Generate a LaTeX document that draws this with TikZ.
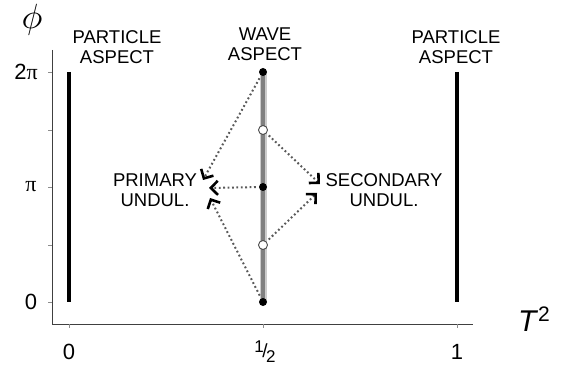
\documentclass[tikz,border=0pt]{standalone}
\usepackage{fontspec}
\setmainfont{Liberation Sans}
\newfontfamily\serifpi{Liberation Serif}
\usetikzlibrary{arrows.meta}
\begin{document}
\begin{tikzpicture}[x=1pt,y=1pt,
  lab/.style={font=\fontsize{18.5}{20.5}\selectfont, align=center, inner sep=0pt},
  tick/.style={font=\fontsize{22}{24}\selectfont, inner sep=0pt},
  pbar/.style={line width=4pt, black},
  wbar/.style={line width=4pt, black!50},
  fdot/.style={circle, fill=black, inner sep=0pt, minimum size=8pt},
  odot/.style={circle, fill=white, draw=black!70, line width=0.9pt, inner sep=0pt, minimum size=9pt},
  darr/.style={black!65, line width=2pt, dash pattern=on 1.8pt off 2.6pt, shorten <=3pt,
    -{Straight Barb[black, length=7pt, width=14pt, line width=2.6pt]}}]
\useasboundingbox (0,0) rectangle (577,-371);
\fill[white] (0,0) rectangle (577,-371);
% axes
\coordinate (yt) at (52,-50);
\coordinate (o) at (52,-324);
\coordinate (xe) at (473,-324);
\draw[black!75, line width=1pt] (yt) -- (o) -- (xe);
\foreach \y in {72,130,187,245,302} \draw[black!45, line width=0.6pt] (48,-\y) -- (52,-\y);
\foreach \x in {69,263,457} \draw[black!45, line width=0.6pt] (\x,-324) -- (\x,-328);
% tick labels
\node[tick] (y2pi) at (26,-72) {2{\serifpi π}};
\node[tick] (ypi) at (31,-187) {{\serifpi π}};
\node[tick] (y0) at (31,-302) {0};
\node[tick] (x0) at (69,-352) {0};
\node[tick] (xh) at (265,-352) {\raisebox{5pt}{\fontsize{17}{17}\selectfont 1}\kern-1.5pt{\fontsize{19}{19}\selectfont/}\kern-1.5pt\raisebox{-5pt}{\fontsize{17}{17}\selectfont 2}};
\node[tick] (x1) at (457,-352) {1};
\node[inner sep=0pt] (phi) at (32,-20) {\scalebox{3.5}{$\phi$}};
\node[font=\fontsize{30}{30}\selectfont, inner sep=0pt] (T2) at (534,-319) {\textit{T}\raisebox{10pt}{\fontsize{21}{21}\selectfont 2}};
% bars
\draw[pbar] (69,-72) -- (69,-302);
\draw[pbar] (457,-72) -- (457,-302);
\draw[black!20, line width=7pt] (263,-72) -- (263,-302);
\draw[wbar] (263,-72) -- (263,-302);
% dots
\node[fdot] (d1) at (263,-72) {};
\node[odot] (d2) at (263,-130) {};
\node[fdot] (d3) at (263,-187) {};
\node[odot] (d4) at (263,-245) {};
\node[fdot] (d5) at (263,-302) {};
% labels
\node[lab] (pl) at (117,-47) {PARTICLE\\ASPECT};
\node[lab] (wa) at (265,-44) {WAVE\\ASPECT};
\node[lab] (pr) at (456,-47) {PARTICLE\\ASPECT};
\node[lab] (pu) at (155,-190) {PRIMARY\\UNDUL.};
\node[lab] (su) at (384,-190) {SECONDARY\\UNDUL.};
% arrow targets
\coordinate (a1) at (203,-180);
\coordinate (a2) at (209,-188);
\coordinate (a3) at (210,-198);
\coordinate (a4) at (320,-184);
\coordinate (a5) at (317,-193);
\draw[darr] (d1) -- (a1);
\draw[darr] (d3) -- (a2);
\draw[darr] (d5) -- (a3);
\draw[darr] (d2) -- (a4);
\draw[darr] (d4) -- (a5);
\end{tikzpicture}
\end{document}
